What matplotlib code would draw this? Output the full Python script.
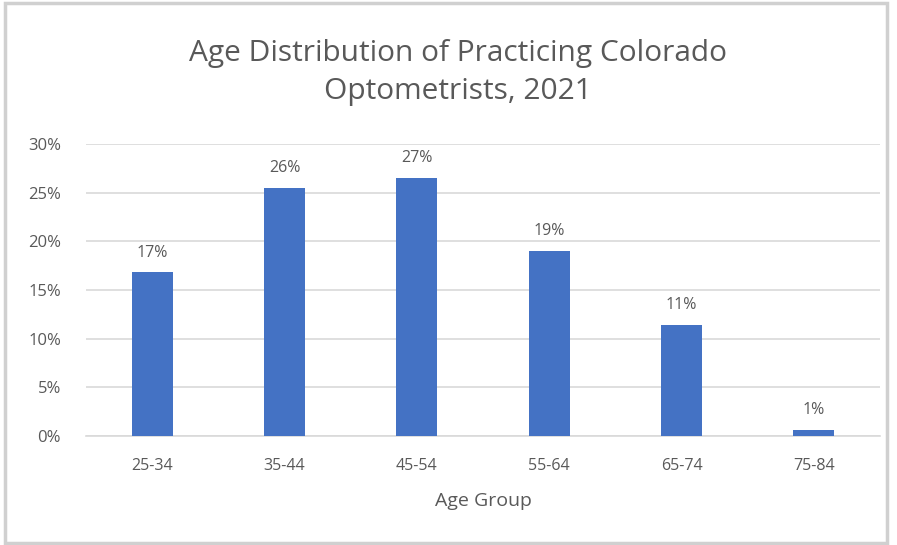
import matplotlib
matplotlib.use("Agg")
import matplotlib.pyplot as plt
from matplotlib.patches import Rectangle

age_groups = ["25-34", "35-44", "45-54", "55-64", "65-74", "75-84"]
shares = [16.8, 25.5, 26.5, 19.0, 11.4, 0.6]
share_labels = ["17%", "26%", "27%", "19%", "11%", "1%"]
y_ticks = [0, 5, 10, 15, 20, 25, 30]

plt.rcParams['font.family'] = ['Open Sans', 'DejaVu Sans']
text_grey = '#595959'

fig = plt.figure(figsize=(8.97, 5.45), dpi=100)
# light frame around the chart
fig.patches.append(Rectangle((0.006, 0.004), 0.983, 0.99, transform=fig.transFigure,
                             fill=False, edgecolor='#d0d0d0', linewidth=2.5))

ax = fig.add_axes([0.096, 0.2, 0.885, 0.536])
x = range(len(age_groups))
bars = ax.bar(x, shares, width=0.31, color='#4472C4', zorder=3)

for b, lab in zip(bars, share_labels):
    ax.text(b.get_x() + b.get_width() / 2, b.get_height() + 1.2, lab,
            ha='center', va='bottom', fontsize=11.5, color=text_grey)

ax.set_ylim(0, 30)
ax.set_xlim(-0.5, len(age_groups) - 0.5)
ax.set_yticks(y_ticks)
ax.set_yticklabels([f"{t}%" for t in y_ticks])
ax.set_xticks(list(x))
ax.set_xticklabels(age_groups)
ax.tick_params(axis='both', length=0, labelsize=11.5, colors=text_grey)
ax.tick_params(axis='y', pad=18, labelsize=12)
ax.tick_params(axis='x', pad=16)
ax.grid(axis='y', color='#d9d9d9', linewidth=1.2, zorder=0)
for s in ['top', 'right', 'left']:
    ax.spines[s].set_visible(False)
ax.spines['bottom'].set_color('#d9d9d9')
ax.spines['bottom'].set_linewidth(1.2)

ax.set_xlabel("Age Group", fontsize=14, color=text_grey, labelpad=13)
fig.text(0.511, 0.867, "Age Distribution of Practicing Colorado\nOptometrists, 2021",
         ha='center', va='center', fontsize=21.5, color=text_grey, linespacing=1.45)

fig.savefig("out.png", dpi=100, facecolor='white')
